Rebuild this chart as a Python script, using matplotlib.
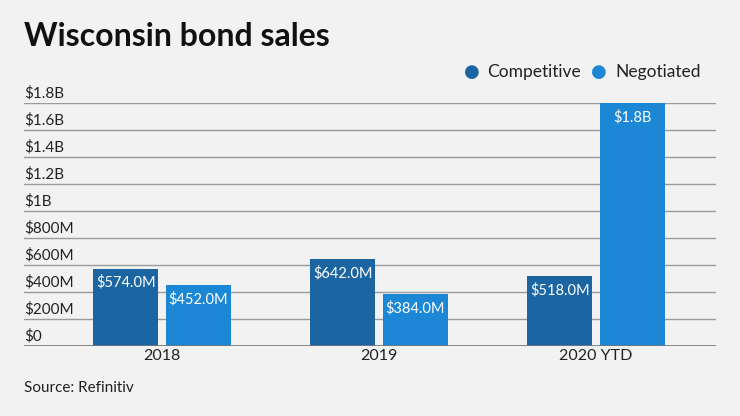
import numpy as np
import matplotlib.pyplot as plt

anos = ['2018', '2019', '2020 YTD']
competitivo = [574, 642, 518]       # milhões de dólares
negociado = [452, 384, 1800]
rot_comp = ['$574.0M', '$642.0M', '$518.0M']
rot_neg = ['$452.0M', '$384.0M', '$1.8B']
ticks = [0, 200, 400, 600, 800, 1000, 1200, 1400, 1600, 1800]
ticks_txt = ['$0', '$200M', '$400M', '$600M', '$800M', '$1B',
             '$1.2B', '$1.4B', '$1.6B', '$1.8B']

cor_comp = '#1c65a3'
cor_neg = '#1b87d5'
fundo = '#f2f2f2'

plt.rcParams['font.family'] = ['Lato', 'DejaVu Sans']

fig = plt.figure(figsize=(7.4, 4.16), dpi=100, facecolor=fundo)
ax = fig.add_axes([24 / 740, 1 - 346 / 416, 692 / 740, 243 / 416])
ax.set_facecolor(fundo)

x = np.arange(len(anos))
w = 0.30
off = 0.167
b1 = ax.bar(x - off, competitivo, w, color=cor_comp, zorder=3)
b2 = ax.bar(x + off, negociado, w, color=cor_neg, zorder=3)

# rótulos dentro das barras
for barras, rots in [(b1, rot_comp), (b2, rot_neg)]:
    for b, r in zip(barras, rots):
        ax.text(b.get_x() + b.get_width() / 2, b.get_height() - 105, r,
                ha='center', va='center', color='white', fontsize=10.5, zorder=4)

ax.set_xlim(-0.636, 2.553)
ax.set_ylim(0, 1800)
for t, s in zip(ticks, ticks_txt):
    ax.axhline(t, color='#9a9a9a', lw=1, zorder=1)
    ax.text(0.0, t + 22, s, transform=ax.get_yaxis_transform(),
            ha='left', va='bottom', fontsize=11, color='#222222')
ax.axhline(0, color='#777777', lw=1.2, zorder=5)

ax.set_yticks([])
ax.set_xticks(x)
ax.set_xticklabels(anos, fontsize=11.5, color='#222222')
ax.tick_params(axis='x', length=0, pad=2)
for s in ax.spines.values():
    s.set_visible(False)

fig.text(24 / 740, 1 - 37 / 416, 'Wisconsin bond sales', fontsize=23,
         fontweight='bold', ha='left', va='center', color='#111111')

# legenda
fig.text(472 / 740, 1 - 72 / 416, '●', color=cor_comp, fontsize=13,
         ha='center', va='center', family='DejaVu Sans')
fig.text(487 / 740, 1 - 72 / 416, 'Competitive', fontsize=12.5,
         ha='left', va='center', color='#222222')
fig.text(599 / 740, 1 - 72 / 416, '●', color=cor_neg, fontsize=13,
         ha='center', va='center', family='DejaVu Sans')
fig.text(615 / 740, 1 - 72 / 416, 'Negotiated', fontsize=12.5,
         ha='left', va='center', color='#222222')

fig.text(24 / 740, 1 - 388 / 416, 'Source: Refinitiv', fontsize=11,
         ha='left', va='center', color='#222222')

fig.savefig('out.png', dpi=100, facecolor=fundo)
